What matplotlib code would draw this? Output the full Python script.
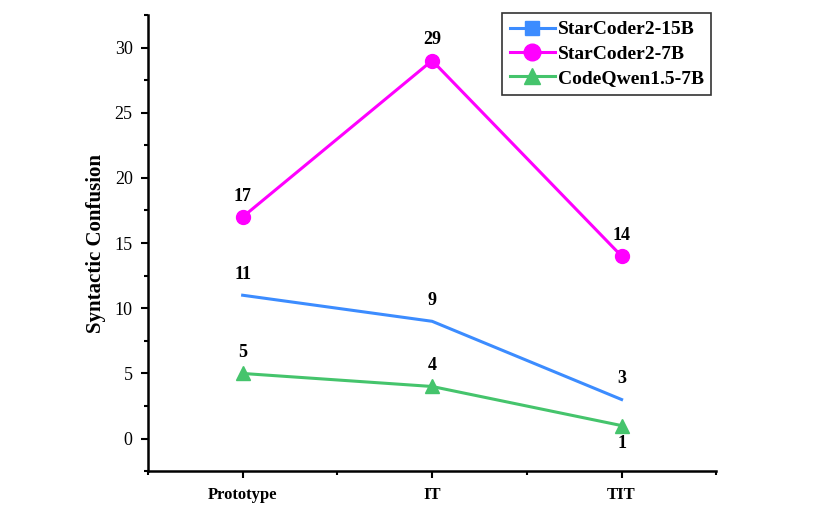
import matplotlib.pyplot as plt
from matplotlib.lines import Line2D
from matplotlib.ticker import MultipleLocator

plt.rcParams["font.family"] = ["Liberation Serif", "DejaVu Serif"]

# data
stages = ["Prototype", "IT", "TIT"]
starcoder15 = [11, 9, 3]
starcoder7 = [17, 29, 14]
codeqwen = [5, 4, 1]

c_blue = "#3C8CFF"
c_mag = "#FF00FF"
c_green = "#45C46C"

fig = plt.figure(figsize=(8.31, 5.15), dpi=100)
ax = fig.add_axes([0.178, 0.085, 0.684, 0.886])

x = list(range(len(stages)))
ax.plot(x, starcoder15, color=c_blue, lw=2.2)
ax.plot(x, starcoder7, color=c_mag, lw=2.2, marker="o", ms=10)
ax.plot(x, codeqwen, color=c_green, lw=2.2, marker="^", ms=10)

# value labels
for xi, v in zip(x, starcoder15):
    ax.annotate(str(v), (xi, v), xytext=(0, 9), textcoords="offset points",
                ha="center", va="bottom", fontsize=13, fontweight="bold")
for xi, v in zip(x, starcoder7):
    ax.annotate(str(v), (xi, v), xytext=(0, 9), textcoords="offset points",
                ha="center", va="bottom", fontsize=13, fontweight="bold")
for xi, v in zip(x, codeqwen):
    if xi == 2:
        ax.annotate(str(v), (xi, v), xytext=(0, -7), textcoords="offset points",
                    ha="center", va="top", fontsize=13, fontweight="bold")
    else:
        ax.annotate(str(v), (xi, v), xytext=(0, 9), textcoords="offset points",
                    ha="center", va="bottom", fontsize=13, fontweight="bold")

ax.set_xlim(-0.5, 2.5)
ax.set_ylim(-2.5, 32.5)
ax.set_xticks(x)
ax.set_xticklabels(stages, fontweight="bold", fontsize=12)
ax.xaxis.set_minor_locator(MultipleLocator(0.5))
ax.yaxis.set_major_locator(MultipleLocator(5))
ax.yaxis.set_minor_locator(MultipleLocator(2.5))
ax.tick_params(axis="y", labelsize=13)
ax.tick_params(which="major", direction="out", length=5, width=1.5, pad=6)
ax.tick_params(which="minor", direction="out", length=3, width=1.5)
ax.set_ylabel("Syntactic Confusion", fontsize=15, fontweight="bold", labelpad=6)

for s in ["top", "right"]:
    ax.spines[s].set_visible(False)
for s in ["left", "bottom"]:
    ax.spines[s].set_linewidth(1.8)

handles = [
    Line2D([], [], color=c_blue, lw=2.2, marker="s", ms=10),
    Line2D([], [], color=c_mag, lw=2.2, marker="o", ms=12),
    Line2D([], [], color=c_green, lw=2.2, marker="^", ms=12),
]
leg = ax.legend(handles, ["StarCoder2-15B", "StarCoder2-7B", "CodeQwen1.5-7B"],
                loc="upper right", bbox_to_anchor=(1.0, 1.015),
                prop={"weight": "bold", "size": 14}, fancybox=False,
                edgecolor="#333333", framealpha=1, handlelength=2.3,
                borderpad=0.4, labelspacing=0.35, handletextpad=0.15,
                borderaxespad=0.25)
leg.get_frame().set_linewidth(1.2)

fig.savefig("out.png", dpi=100)
